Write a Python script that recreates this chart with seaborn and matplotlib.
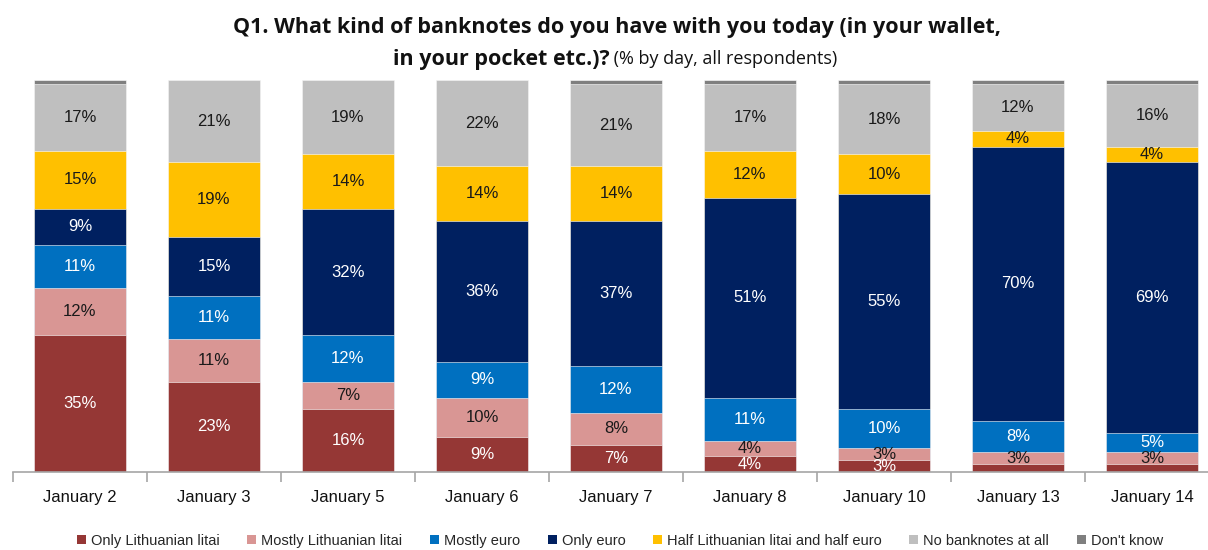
import matplotlib
matplotlib.use("Agg")
import matplotlib.pyplot as plt
import seaborn as sns
import numpy as np
import pandas as pd
from matplotlib.patches import Patch

days = ["January 2", "January 3", "January 5", "January 6", "January 7",
        "January 8", "January 10", "January 13", "January 14"]
series = ["Only Lithuanian litai", "Mostly Lithuanian litai", "Mostly euro",
          "Only euro", "Half Lithuanian litai and half euro",
          "No banknotes at all", "Don't know"]
only_lt = [35, 23, 16, 9, 7, 4, 3, 2, 2]
mostly_lt = [12, 11, 7, 10, 8, 4, 3, 3, 3]
mostly_eur = [11, 11, 12, 9, 12, 11, 10, 8, 5]
only_eur = [9, 15, 32, 36, 37, 51, 55, 70, 69]
half = [15, 19, 14, 14, 14, 12, 10, 4, 4]
no_notes = [17, 21, 19, 22, 21, 17, 18, 12, 16]
dont_know = [1, 0, 0, 0, 1, 1, 1, 1, 1]
values = [only_lt, mostly_lt, mostly_eur, only_eur, half, no_notes, dont_know]
colors = ["#953735", "#D99694", "#0070C0", "#002060", "#FFC000", "#BFBFBF", "#7F7F7F"]
text_colors = ["white", "#1a1a1a", "white", "white", "#1a1a1a", "#1a1a1a", "#1a1a1a"]

sns.set_theme(style="white")
plt.rcParams["font.family"] = ["Liberation Sans", "DejaVu Sans"]

fig = plt.figure(figsize=(12.08, 5.5), dpi=100)
ax = fig.add_axes([13 / 1208, 78 / 550, 1206 / 1208, 392 / 550])

vals = np.array(values, dtype=float)
cum = np.cumsum(vals, axis=0)

# draw cumulative bars from top series down so they overlap into a stack
for i in reversed(range(len(series))):
    df = pd.DataFrame({"day": days, "cum": cum[i]})
    sns.barplot(data=df, x="day", y="cum", color=colors[i], saturation=1,
                width=0.69, ax=ax, edgecolor="white", linewidth=0.4)

for i in range(len(series) - 1):
    for j in range(len(days)):
        v = vals[i, j]
        if v >= 3:
            ax.text(j, cum[i, j] - v / 2, f"{int(v)}%", ha="center", va="center",
                    fontsize=12, color=text_colors[i])

ax.set_xlim(-0.5, 8.5)
ax.set_ylim(0, 100)
ax.set_xlabel("")
ax.set_ylabel("")
ax.set_yticks([])
for s in ["top", "right", "left"]:
    ax.spines[s].set_visible(False)
ax.spines["bottom"].set_color("#A6A6A6")
ax.spines["bottom"].set_linewidth(1.2)
ax.tick_params(axis="x", which="major", length=0, pad=13, labelsize=12, colors="#111111")
ax.set_xticks(np.arange(-0.5, 9.0, 1.0), minor=True)
ax.tick_params(axis="x", which="minor", length=7, width=1.2, color="#A6A6A6", bottom=True)

# title
title_font = ["Open Sans", "DejaVu Sans"]
fig.text(617 / 1208, 1 - 28 / 550,
         "Q1. What kind of banknotes do you have with you today (in your wallet,",
         ha="center", va="center", fontsize=15.5, fontweight="bold",
         family=title_font, color="#111111")
fig.canvas.draw()
renderer = fig.canvas.get_renderer()
t1 = fig.text(0, 1 - 59 / 550, "in your pocket etc.)?", ha="left", va="center",
              fontsize=15.5, fontweight="bold", family=title_font, color="#111111")
t2 = fig.text(0, 1 - 59 / 550, " (% by day, all respondents)", ha="left", va="center",
              fontsize=13, family=title_font, color="#111111")
w1 = t1.get_window_extent(renderer).width
w2 = t2.get_window_extent(renderer).width
start = 615 - (w1 + w2) / 2
t1.set_x(start / 1208)
t2.set_x((start + w1) / 1208)

handles = [Patch(facecolor=c, edgecolor="none") for c in colors]
fig.legend(handles, series, loc="center", bbox_to_anchor=(620 / 1208, 1 - 541 / 550),
           ncol=7, frameon=False, fontsize=10.5, handlelength=0.6, handleheight=0.6,
           handletextpad=0.35, columnspacing=1.9)

fig.savefig("out.png", dpi=100)
